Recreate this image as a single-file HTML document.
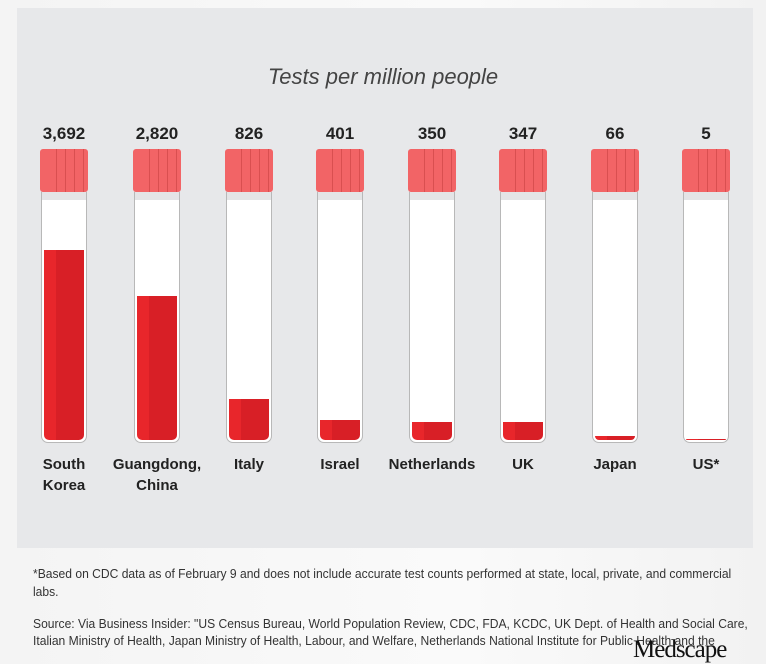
<!DOCTYPE html>
<html><head><meta charset="utf-8"><style>
body{margin:0;width:766px;height:664px;background:linear-gradient(90deg,#f4f4f4,#fafafa 60%,#f2f2f2);position:relative;overflow:hidden;font-family:"Liberation Sans",sans-serif}
.panel{position:absolute;left:17px;top:8px;width:736px;height:540px;background:#e7e8ea}
.t{position:absolute;width:48px}
.cap{position:absolute;left:0;top:149px;width:48px;height:43px;background:#f26466;border-radius:3px;
background-image:repeating-linear-gradient(90deg,transparent 0 8px,rgba(170,40,40,.35) 8px 9px);background-size:36px 100%;background-position:8px 0;background-repeat:no-repeat}
.body{position:absolute;left:1px;top:192px;width:44px;height:250px;background:#fff;border:1px solid #b8b8b8;border-top:none;border-radius:0 0 7px 7px;overflow:hidden}
.body:before{content:"";position:absolute;left:0;top:0;right:0;height:8px;background:#e4e4e6}
.fill{position:absolute;left:2px;right:2px;bottom:2px;background:linear-gradient(90deg,#e8262b 0 30%,#d81f26 30%);border-radius:0 0 5px 5px}
.v{position:absolute;top:124px;width:100px;margin-left:-26px;text-align:center;font-weight:bold;font-size:17px;color:#222}
.n{position:absolute;top:454px;width:120px;margin-left:-36px;text-align:center;font-weight:bold;font-size:15px;line-height:21px;color:#222}
.title{position:absolute;top:64px;left:0;width:766px;text-align:center;font-style:italic;font-size:22px;color:#444}
.foot{position:absolute;left:33px;font-size:13px;color:#333;line-height:17px;white-space:nowrap;transform-origin:0 0;transform:scaleX(0.93)}
.logo{position:absolute;left:633px;top:636px;font-family:"Liberation Serif",serif;font-size:25px;color:#111;letter-spacing:-1px}
</style></head><body>
<div class="panel"></div>
<div class="title">Tests per million people</div>

<div class="t" style="left:40px"><div class="v">3,692</div><div class="cap"></div><div class="body"><div class="fill" style="height:190px"></div></div><div class="n">South<br>Korea</div></div>
<div class="t" style="left:133px"><div class="v">2,820</div><div class="cap"></div><div class="body"><div class="fill" style="height:144px"></div></div><div class="n">Guangdong,<br>China</div></div>
<div class="t" style="left:225px"><div class="v">826</div><div class="cap"></div><div class="body"><div class="fill" style="height:41px"></div></div><div class="n">Italy</div></div>
<div class="t" style="left:316px"><div class="v">401</div><div class="cap"></div><div class="body"><div class="fill" style="height:20px"></div></div><div class="n">Israel</div></div>
<div class="t" style="left:408px"><div class="v">350</div><div class="cap"></div><div class="body"><div class="fill" style="height:18px"></div></div><div class="n">Netherlands</div></div>
<div class="t" style="left:499px"><div class="v">347</div><div class="cap"></div><div class="body"><div class="fill" style="height:18px"></div></div><div class="n">UK</div></div>
<div class="t" style="left:591px"><div class="v">66</div><div class="cap"></div><div class="body"><div class="fill" style="height:4px"></div></div><div class="n">Japan</div></div>
<div class="t" style="left:682px"><div class="v">5</div><div class="cap"></div><div class="body"><div class="fill" style="height:1px"></div></div><div class="n">US*</div></div>

<div class="foot" style="top:565px">*Based on CDC data as of February 9 and does not include accurate test counts performed at state, local, private, and commercial</div>
<div class="foot" style="top:583px">labs.</div>
<div class="foot" style="top:615px">Source: Via Business Insider: "US Census Bureau, World Population Review, CDC, FDA, KCDC, UK Dept. of Health and Social Care,</div>
<div class="foot" style="top:632px">Italian Ministry of Health, Japan Ministry of Health, Labour, and Welfare, Netherlands National Institute for Public Health and the</div>
<div class="logo">Medscape</div>
</body></html>
